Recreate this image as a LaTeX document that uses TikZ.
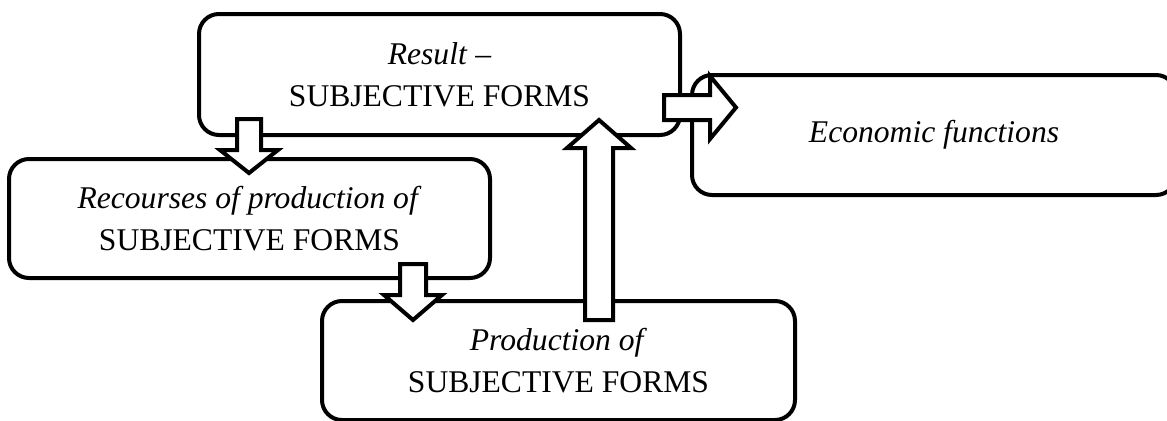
\documentclass[tikz,border=0pt]{standalone}
\usepackage{fontspec}
\setmainfont{Liberation Serif}
\tikzset{
  formbox/.style={draw, line width=3pt, rounded corners=15pt, align=center, inner sep=0pt,
    font=\fontsize{23.7}{31.5}\selectfont},
  blockarrow/.style={draw, fill=white, line width=3pt, line join=miter}
}
\begin{document}
\begin{tikzpicture}[x=0.75pt,y=-0.75pt]
\useasboundingbox (0,0) rectangle (1167,421);
% boxes
\node[formbox, minimum width=360.75pt, minimum height=90.75pt] (res) at (439.5,74.5) {\textit{Result} --\\SUBJECTIVE FORMS};
\node[formbox, minimum width=360.75pt, minimum height=89.25pt] (rec) at (249.5,218.5) {\textit{Recourses of production of}\\SUBJECTIVE FORMS};
\node[formbox, minimum width=354.75pt, minimum height=89.25pt] (prod) at (558.5,360.5) {\textit{Production of}\\SUBJECTIVE FORMS};
\node[formbox, minimum width=363pt, minimum height=90pt] (econ) at (934,135) {\textit{Economic functions}};
% block arrows
\draw[blockarrow] (237,119) -- (261,119) -- (261,150) -- (278,150) -- (249,173) -- (220,150) -- (237,150) -- cycle;
\draw[blockarrow] (400,264) -- (426,264) -- (426,295) -- (442,295) -- (413,320) -- (384,295) -- (400,295) -- cycle;
\draw[blockarrow] (585,320) -- (613,320) -- (613,148) -- (631,148) -- (599,120) -- (567,148) -- (585,148) -- cycle;
\draw[blockarrow] (664,95) -- (710,95) -- (710,76) -- (736,107.5) -- (710,139) -- (710,120) -- (664,120) -- cycle;
\end{tikzpicture}
\end{document}
